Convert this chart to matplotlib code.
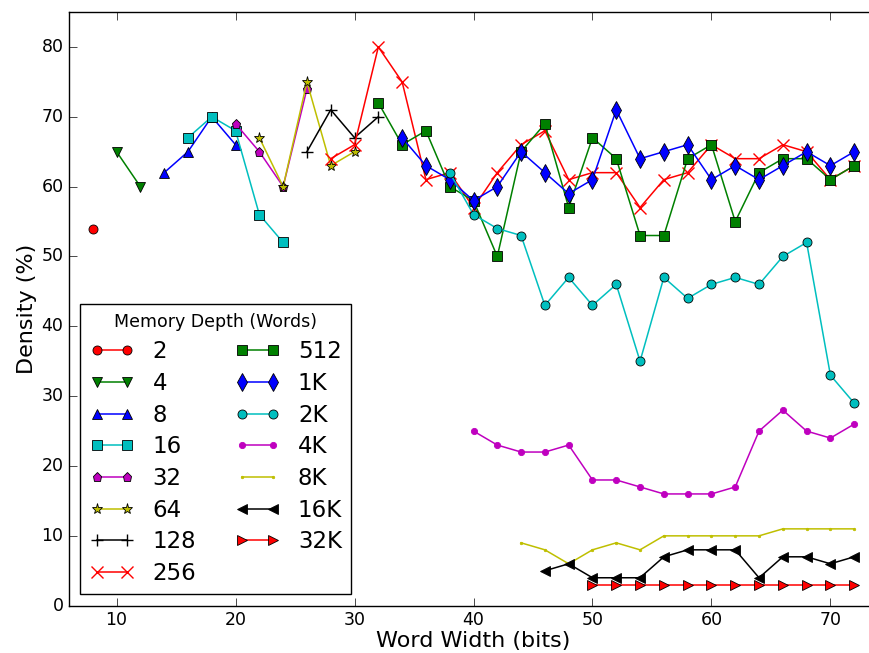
import matplotlib
matplotlib.use('Agg')
import matplotlib.pyplot as plt

plt.style.use('classic')
plt.rcParams['font.family'] = ['DejaVu Sans']

# memory depth labels
depths = ['2', '4', '8', '16', '32', '64', '128', '256',
          '512', '1K', '2K', '4K', '8K', '16K', '32K']

# word width / density per depth
w_2 = [8]
d_2 = [54]
w_4 = [10, 12]
d_4 = [65, 60]
w_8 = [14, 16, 18, 20]
d_8 = [62, 65, 70, 66]
w_16 = [16, 18, 20, 22, 24]
d_16 = [67, 70, 68, 56, 52]
w_32 = [20, 22, 24, 26]
d_32 = [69, 65, 60, 74]
w_64 = [22, 24, 26, 28, 30]
d_64 = [67, 60, 75, 63, 65]
w_128 = [26, 28, 30, 32]
d_128 = [65, 71, 67, 70]
w_256 = list(range(28, 73, 2))
d_256 = [64, 66, 80, 75, 61, 62, 57, 62, 66, 68, 61, 62, 62, 57, 61, 62,
         66, 64, 64, 66, 65, 61, 63]
w_512 = list(range(32, 73, 2))
d_512 = [72, 66, 68, 60, 58, 50, 65, 69, 57, 67, 64, 53, 53, 64, 66, 55,
         62, 64, 64, 61, 63]
w_1k = list(range(34, 73, 2))
d_1k = [67, 63, 61, 58, 60, 65, 62, 59, 61, 71, 64, 65, 66, 61, 63, 61,
        63, 65, 63, 65]
w_2k = list(range(38, 73, 2))
d_2k = [62, 56, 54, 53, 43, 47, 43, 46, 35, 47, 44, 46, 47, 46, 50, 52,
        33, 29]
w_4k = list(range(40, 73, 2))
d_4k = [25, 23, 22, 22, 23, 18, 18, 17, 16, 16, 16, 17, 25, 28, 25, 24, 26]
w_8k = list(range(44, 73, 2))
d_8k = [9, 8, 6, 8, 9, 8, 10, 10, 10, 10, 10, 11, 11, 11, 11]
w_16k = list(range(46, 73, 2))
d_16k = [5, 6, 4, 4, 4, 7, 8, 8, 8, 4, 7, 7, 6, 7]
w_32k = list(range(50, 73, 2))
d_32k = [3] * 12

widths = [w_2, w_4, w_8, w_16, w_32, w_64, w_128, w_256,
          w_512, w_1k, w_2k, w_4k, w_8k, w_16k, w_32k]
dens = [d_2, d_4, d_8, d_16, d_32, d_64, d_128, d_256,
        d_512, d_1k, d_2k, d_4k, d_8k, d_16k, d_32k]

colors = ['r', 'g', 'b', 'c', 'm', 'y', 'k']
markers = ['o', 'v', '^', 's', 'p', '*', '+', 'x',
           's', 'd', 'o', '.', '.', '<', '>']

fig = plt.figure(figsize=(8.69, 6.53), dpi=100)
fig.patch.set_facecolor('white')
ax = fig.add_axes([69 / 869, 47.3 / 653, 809 / 869, 593.7 / 653])

for i in range(len(depths)):
    c = colors[i % 7]
    m = markers[i]
    kw = dict(color=c, marker=m, linewidth=1.1, markersize=6.5,
              markeredgewidth=0.6, markeredgecolor='k')
    if m in ('x', '+'):
        kw['markeredgecolor'] = c
        kw['markeredgewidth'] = 1.0
        kw['markersize'] = 9
    if m == '.':
        kw['markeredgecolor'] = c
        kw['markersize'] = 9 if depths[i] == '4K' else 3.5
    if m == '*':
        kw['markersize'] = 8
    if m == 'd':
        kw['markersize'] = 9
    ax.plot(widths[i], dens[i], label=depths[i], **kw)

ax.set_xlim(6, 74)
ax.set_ylim(0, 85)
ax.set_xticks([10, 20, 30, 40, 50, 60, 70])
ax.set_yticks([0, 10, 20, 30, 40, 50, 60, 70, 80])
ax.tick_params(labelsize=12.5, direction='in', length=6)
ax.set_xlabel('Word Width (bits)', fontsize=16, labelpad=1)
ax.set_ylabel('Density (%)', fontsize=16, labelpad=3)

leg = ax.legend(loc='lower left', ncol=2, numpoints=2, fontsize=16.5,
                title='Memory Depth (Words)', title_fontsize=12.5,
                handlelength=1.95, labelspacing=0.38, columnspacing=1.7,
                handletextpad=0.79, borderpad=0.4, fancybox=False,
                borderaxespad=0.5)
leg.get_frame().set_edgecolor('k')

fig.savefig('out.png', dpi=100)
